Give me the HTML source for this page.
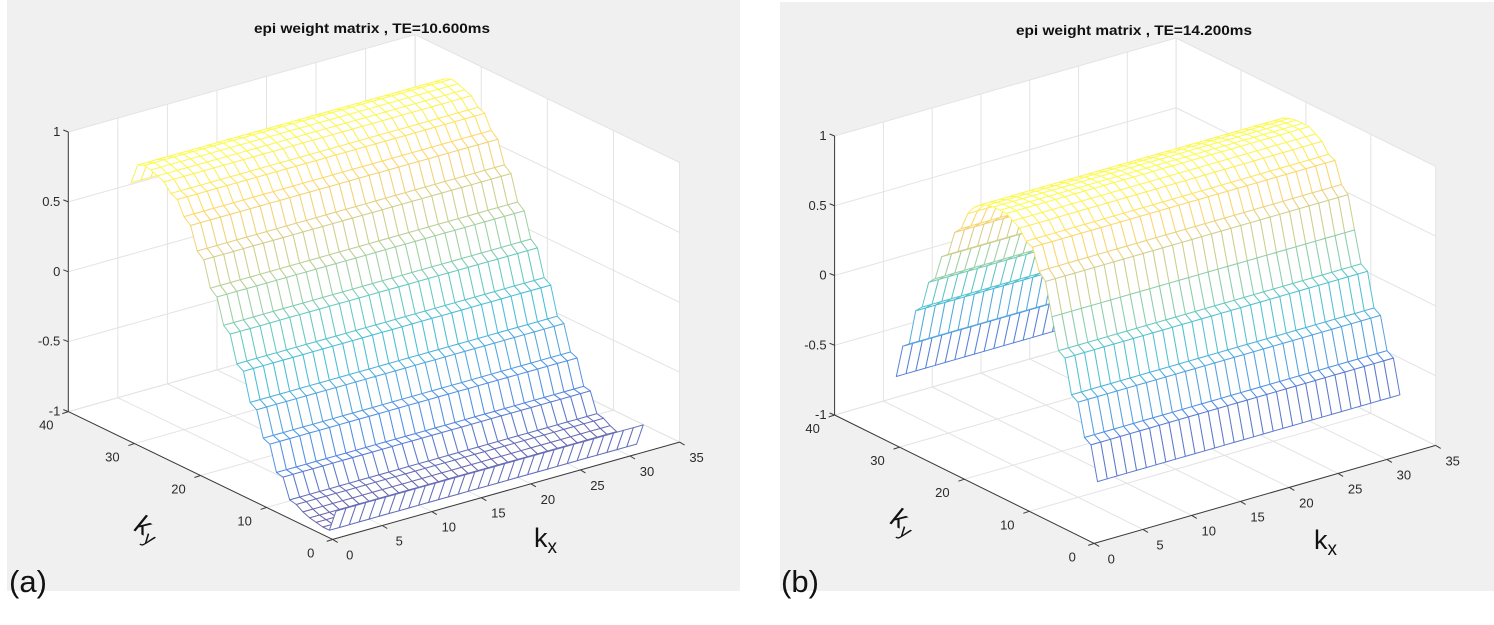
<!DOCTYPE html>
<html><head><meta charset="utf-8">
<style>
html,body{margin:0;padding:0;background:#fff;}
svg{display:block;font-family:"Liberation Sans",sans-serif;}
</style></head>
<body>
<svg id="chart" width="1494" height="625" viewBox="0 0 1494 625" xmlns="http://www.w3.org/2000/svg">
<rect x="0" y="0" width="1494" height="625" fill="#ffffff"/>
<rect x="7" y="0" width="733" height="591" fill="#f0f0f0"/>
<rect x="780" y="2" width="714" height="589" fill="#f0f0f0"/>
<g id="panelA"></g>
<g id="panelB"></g>
<text x="372" y="33" text-anchor="middle" font-weight="bold" font-size="13.5" textLength="236" lengthAdjust="spacingAndGlyphs" fill="#111">epi weight matrix , TE=10.600ms</text>
<text x="1134" y="35" text-anchor="middle" font-weight="bold" font-size="13.5" textLength="236" lengthAdjust="spacingAndGlyphs" fill="#111">epi weight matrix , TE=14.200ms</text>
<text x="9" y="592" font-size="31" fill="#111">(a)</text>
<text x="781" y="592" font-size="31" fill="#111">(b)</text>
<text x="534" y="547" font-size="27" fill="#111">k<tspan font-size="19" dy="6">x</tspan></text>
<text x="1314" y="549" font-size="27" fill="#111">k<tspan font-size="19" dy="6">x</tspan></text>
<text transform="translate(133,530) rotate(28)" font-size="27" font-style="italic" fill="#111">k<tspan font-size="19" dy="6">y</tspan></text>
<text transform="translate(889,523) rotate(28)" font-size="27" font-style="italic" fill="#111">k<tspan font-size="19" dy="6">y</tspan></text>
</svg>
<script>
const kxValues=[1,2,3,4,5,6,7,8,9,10,11,12,13,14,15,16,17,18,19,20,21,22,23,24,25,26,27,28,29,30,31,32];
const kyValues=[1,2,3,4,5,6,7,8,9,10,11,12,13,14,15,16,17,18,19,20,21,22,23,24,25,26,27,28,29,30,31,32];
const zProfileA=[-0.84,-1.0,-1.0,-0.99,-0.98,-0.96,-0.93,-0.92,-0.78,-0.77,-0.59,-0.57,-0.39,-0.36,-0.16,-0.13,0.06,0.1,0.28,0.32,0.5,0.54,0.7,0.74,0.84,0.86,0.92,0.94,0.96,0.97,0.95,0.8];
const zProfileB=[-0.6,-0.36,-0.33,-0.1,-0.07,0.17,0.2,0.42,0.65,0.7,0.85,0.87,0.94,0.97,1.0,1.0,1.0,0.99,0.97,0.93,0.86,0.73,0.68,0.5,0.46,0.28,0.23,0.03,-0.02,-0.28,-0.32,-0.56];
const kxTicks=[0,5,10,15,20,25,30,35];
const kyTicks=[0,10,20,30,40];
const zTicks=[-1,-0.5,0,0.5,1];
const zTickLabels=["-1","-0.5","0","0.5","1"];

const NS="http://www.w3.org/2000/svg";
const parula=[[53,42,135],[15,92,221],[20,129,214],[6,164,202],[46,183,164],[135,191,119],[209,187,89],[254,200,50],[249,251,14]];
function cmap(t){t=Math.max(0,Math.min(1,t));const s=t*8,i=Math.min(7,Math.floor(s)),f=s-i;const a=parula[i],b=parula[i+1];
 const c=[0,1,2].map(k=>Math.round((a[k]+(b[k]-a[k])*f)*0.72+255*0.28));return `rgb(${c[0]},${c[1]},${c[2]})`;}
function el(tag,attrs,parent){const e=document.createElementNS(NS,tag);for(const k in attrs)e.setAttribute(k,attrs[k]);parent.appendChild(e);return e;}

function panel(g,P,zProfile,suffix){
 const proj=(kx,ky,z)=>[P.ox+kx*P.exx+ky*P.eyx, P.oy+kx*P.exy+ky*P.eyy-(z+1)*P.ez];
 const pt=p=>p[0].toFixed(1)+","+p[1].toFixed(1);
 const pane=el('polygon',{points:[proj(0,40,1),proj(35,40,1),proj(35,0,1),proj(35,0,-1),proj(0,0,-1),proj(0,40,-1)].map(pt).join(' '),fill:'#ffffff'},g);
 
 
 const gridG=el('g',{stroke:'#e3e3e3','stroke-width':1,fill:'none'},g);
 
 
 const line=(a,b,par)=>el('line',{x1:a[0],y1:a[1],x2:b[0],y2:b[1]},par);
 kxTicks.forEach(v=>{line(proj(v,0,-1),proj(v,40,-1),gridG);line(proj(v,40,-1),proj(v,40,1),gridG);});
 kyTicks.forEach(v=>{line(proj(0,v,-1),proj(35,v,-1),gridG);line(proj(35,v,-1),proj(35,v,1),gridG);});
 zTicks.forEach(v=>{line(proj(0,40,v),proj(35,40,v),gridG);line(proj(35,40,v),proj(35,0,v),gridG);});
 const axG=el('g',{stroke:'#3a3a3a','stroke-width':1,fill:'none'},g);
 
 
 line(proj(0,40,-1),proj(0,40,1),axG);
 line(proj(0,40,-1),proj(0,0,-1),axG);
 line(proj(0,0,-1),proj(35,0,-1),axG);
 const zmin=Math.min(...zProfile),zmax=Math.max(...zProfile);
 const meshG=el('g',{'stroke-width':1,'stroke-linejoin':'round'},g);
 
 
 const quads=[];
 for(let i=0;i<kxValues.length-1;i++)for(let j=0;j<kyValues.length-1;j++){
  const x0=kxValues[i],x1=kxValues[i+1],y0=kyValues[j],y1=kyValues[j+1];
  const z0=zProfile[j],z1=zProfile[j+1];
  const depth=-((x0+x1)/2*P.exy+(y0+y1)/2*P.eyy);
  quads.push({x0,x1,y0,y1,z0,z1,depth});
 }
 quads.sort((a,b)=>b.depth-a.depth);
 quads.forEach(q=>{
  const pts=[proj(q.x0,q.y0,q.z0),proj(q.x1,q.y0,q.z0),proj(q.x1,q.y1,q.z1),proj(q.x0,q.y1,q.z1)];
  const t=((q.z0+q.z1)/2-zmin)/(zmax-zmin);
  const poly=el('polygon',{points:pts.map(pt).join(' '),fill:'#ffffff',stroke:cmap(t)},meshG);
  
  
 });
 const tG=el('g',{'font-size':13,fill:'#2a2a2a'},g);
 
 
 zTicks.forEach((v,k)=>{const p=proj(0,40,v);
  el('line',{x1:p[0],y1:p[1],x2:p[0]-5,y2:p[1]-2,stroke:'#3a3a3a'},tG);
  const t=el('text',{x:p[0]-8,y:p[1]+4,'text-anchor':'end'},tG);t.textContent=zTickLabels[k];
  
  });
 kyTicks.forEach(v=>{const p=proj(0,v,-1);
  el('line',{x1:p[0],y1:p[1],x2:p[0]-6,y2:p[1]+2,stroke:'#3a3a3a'},tG);
  const t=el('text',{x:p[0]-22,y:p[1]+18,'text-anchor':'middle'},tG);t.textContent=String(v);
  
  });
 kxTicks.forEach(v=>{const p=proj(v,0,-1);
  el('line',{x1:p[0],y1:p[1],x2:p[0]+5,y2:p[1]+3,stroke:'#3a3a3a'},tG);
  const t=el('text',{x:p[0]+17,y:p[1]+20,'text-anchor':'middle'},tG);t.textContent=String(v);
  
  });
}
panel(document.getElementById('panelA'),{ox:332.7,oy:539.4,exx:9.91,exy:-2.78,eyx:-6.61,eyy:-3.195,ez:139.8},zProfileA,'a');
panel(document.getElementById('panelB'),{ox:1094.2,oy:543.4,exx:9.757,exy:-2.8,eyx:-6.49,eyy:-3.21,ez:139.5},zProfileB,'b');
</script>
</body></html>
